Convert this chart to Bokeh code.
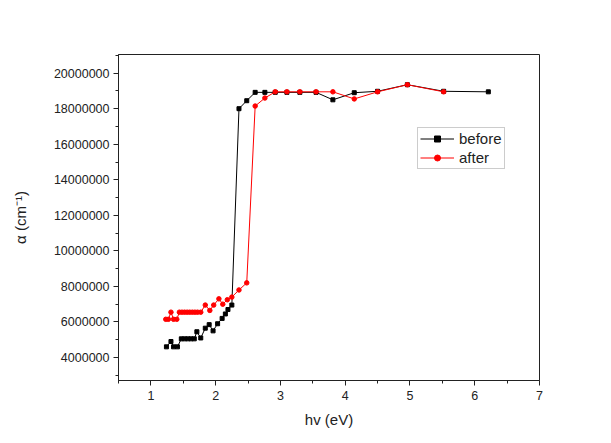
from bokeh.plotting import figure
from bokeh.models import FixedTicker, BasicTickFormatter, Legend, LegendItem, Range1d
from bokeh.embed import file_html
from bokeh.resources import INLINE

# ---- data ----
before_x = [1.24, 1.31, 1.35, 1.41, 1.47, 1.52, 1.57, 1.62, 1.67, 1.71, 1.77, 1.84, 1.90, 1.96,
            2.03, 2.10, 2.15, 2.19, 2.25, 2.36, 2.48, 2.61, 2.76, 2.92, 3.10, 3.30, 3.55, 3.81,
            4.14, 4.50, 4.96, 5.52, 6.21]
before_y = [4.6e6, 4.9e6, 4.6e6, 4.6e6, 5.05e6, 5.05e6, 5.05e6, 5.05e6, 5.05e6, 5.45e6, 5.1e6,
            5.65e6, 5.85e6, 5.5e6, 5.9e6, 6.2e6, 6.45e6, 6.7e6, 6.95e6, 18.0e6, 18.45e6, 18.92e6,
            18.92e6, 18.92e6, 18.92e6, 18.92e6, 18.92e6, 18.5e6, 18.9e6, 18.98e6, 19.35e6,
            18.98e6, 18.95e6]

after_x = [1.23, 1.27, 1.31, 1.35, 1.40, 1.44, 1.48, 1.52, 1.56, 1.60, 1.64, 1.68, 1.72, 1.77,
           1.84, 1.91, 1.97, 2.05, 2.11, 2.18, 2.25, 2.36, 2.48, 2.61, 2.76, 2.92, 3.10, 3.30,
           3.55, 3.81, 4.14, 4.50, 4.96, 5.52]
after_y = [6.15e6, 6.15e6, 6.55e6, 6.15e6, 6.15e6, 6.55e6, 6.55e6, 6.55e6, 6.55e6, 6.55e6,
           6.55e6, 6.55e6, 6.55e6, 6.55e6, 6.95e6, 6.65e6, 6.95e6, 7.3e6, 7.0e6, 7.25e6, 7.4e6,
           7.8e6, 8.2e6, 18.15e6, 18.6e6, 18.95e6, 18.95e6, 18.95e6, 18.95e6, 18.95e6, 18.55e6,
           18.95e6, 19.35e6, 18.95e6]

x_ticks = [1, 2, 3, 4, 5, 6, 7]
x_minor = [0.5, 1.5, 2.5, 3.5, 4.5, 5.5, 6.5]
y_ticks = [4e6, 6e6, 8e6, 10e6, 12e6, 14e6, 16e6, 18e6, 20e6]
y_minor = [3e6, 5e6, 7e6, 9e6, 11e6, 13e6, 15e6, 17e6, 19e6, 21e6]

FONT = "Liberation Sans"

p = figure(width=611, height=443, output_backend="svg", toolbar_location=None,
           x_range=Range1d(0.5, 7.0), y_range=Range1d(2.706e6, 21.05e6),
           min_border_left=118, min_border_right=72, min_border_top=54, min_border_bottom=63)
p.xgrid.visible = False
p.ygrid.visible = False
p.outline_line_color = "#222222"
p.outline_line_width = 1
p.background_fill_color = "white"
p.border_fill_color = "white"

for ax, t, m in ((p.xaxis[0], x_ticks, x_minor), (p.yaxis[0], y_ticks, y_minor)):
    ax.ticker = FixedTicker(ticks=t, minor_ticks=m)
    ax.axis_line_color = "#222222"
    ax.major_tick_line_color = "#222222"
    ax.minor_tick_line_color = "#222222"
    ax.major_tick_out = 5
    ax.major_tick_in = 0
    ax.minor_tick_out = 3
    ax.minor_tick_in = 0
    ax.major_label_text_font = FONT
    ax.major_label_text_font_size = "12.5px"
    ax.major_label_text_color = "#222222"
    ax.axis_label_text_font = FONT
    ax.axis_label_text_font_style = "normal"
    ax.axis_label_text_font_size = "15px"
    ax.axis_label_text_color = "#222222"

p.yaxis[0].formatter = BasicTickFormatter(use_scientific=False)
p.xaxis[0].axis_label = "hv (eV)"
p.yaxis[0].axis_label = "α (cm⁻¹)"
p.xaxis[0].major_label_standoff = 5
p.yaxis[0].major_label_standoff = 4
p.xaxis[0].axis_label_standoff = 8
p.yaxis[0].axis_label_standoff = 22

lb = p.line(before_x, before_y, line_color="black", line_width=1)
mb = p.scatter(before_x, before_y, marker="square", size=4, fill_color="black", line_color="black")
la = p.line(after_x, after_y, line_color="red", line_width=1)
ma = p.scatter(after_x, after_y, marker="circle", size=4.5, fill_color="red", line_color="red")

legend = Legend(items=[LegendItem(label="before", renderers=[lb, mb]),
                       LegendItem(label="after", renderers=[la, ma])],
                location=(299, 211))
legend.label_text_font = FONT
legend.label_text_font_size = "15px"
legend.label_text_color = "#222222"
legend.border_line_color = "#999999"
legend.border_line_width = 1
legend.glyph_width = 34
legend.glyph_height = 15
legend.label_height = 15
legend.spacing = 2
legend.padding = 2
legend.margin = 0
legend.label_standoff = 5
p.add_layout(legend, "center")

open("out.html", "w").write(file_html(p, INLINE))
